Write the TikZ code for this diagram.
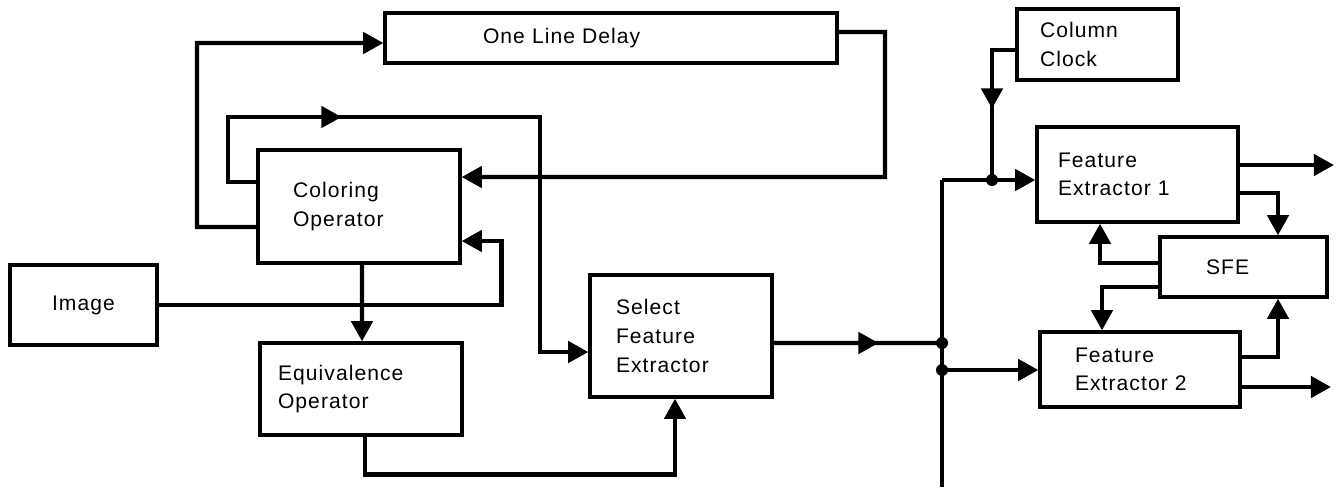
\documentclass[tikz,border=0pt]{standalone}
\usepackage{fontspec}
\setmainfont{Liberation Sans}[LetterSpace=5]
\usetikzlibrary{arrows.meta}
\usetikzlibrary{decorations.markings}

\begin{document}
\begin{tikzpicture}[
        x=0.02cm, y=-0.02cm,
        every node/.style={font=\fontsize{12}{16.3}\selectfont},
        block/.style={rectangle,draw=black,line width=1.9pt,inner ysep=0pt,align=left},
        wire/.style={line width=2.5pt},
        conn/.style={wire,-{Triangle[length=11.5pt,width=12pt]}},
        midarrow/.style={postaction={decorate},
                         decoration={markings,
                           mark=at position #1 with {\arrow{Triangle[length=11.5pt,width=12pt]}}}}
      ]
      \useasboundingbox (0,0) rectangle (1337,491);
      \node (old) [block,minimum height=1cm,inner xsep=1.96cm,text width=5.12cm] at (611,38) {One Line Delay};
      \node (col) [block,minimum height=2.26cm,inner xsep=0.7cm,text width=2.64cm] at (359,206.5) {Coloring\\Operator};
      \node (img) [block,minimum width=2.94cm,minimum height=1.6cm] at (83.5,305) {Image};
      \node (eqv) [block,minimum height=1.84cm,inner xsep=0.36cm,text width=3.32cm] at (361,389) {Equivalence\\Operator};
      \node (sel) [block,minimum height=2.44cm,inner xsep=0.52cm,text width=2.6cm] at (681,336) {Select\\Feature\\Extractor};
      \node (clk) [block,minimum height=1.42cm,inner xsep=0.46cm,text width=2.3cm] at (1097.5,44.5) {Column\\Clock};
      \node (fe1) [block,minimum height=1.9cm,inner xsep=0.42cm,text width=3.18cm] at (1137.5,174.5) {Feature\\Extractor 1};
      \node (sfe) [block,minimum height=1.2cm,inner xsep=0.92cm,text width=1.5cm] at (1243.5,267) {SFE};
      \node (fe2) [block,minimum height=1.5cm,inner xsep=0.7cm,text width=2.6cm] at (1140,369.5) {Feature\\Extractor 2};

      \coordinate (bt) at (942,180);
      \coordinate (bb) at (942,487);
      \coordinate (j1) at (942,343);
      \coordinate (j2) at (942,370);
      \coordinate (jc) at (992,180);
      \coordinate (o1) at (1334,165);
      \coordinate (o2) at (1331,387);

      \draw[conn] ([yshift=-0.41cm]col.west) -| (197,43) -- ([yshift=-0.1cm]old.west);
      \draw[conn,midarrow=4.14cm] ([yshift=0.49cm]col.west) -| (228,117) -- (540,117) |- ([yshift=-0.32cm]sel.west);
      \draw[conn] ([yshift=0.12cm]old.east) -- (885,32) |- ([yshift=0.59cm]col.east);
      \draw[conn] (img.east) -| ([xshift=0.8cm,yshift=-0.69cm]col.east) -- ([yshift=-0.69cm]col.east);
      \draw[conn] ([xshift=0.06cm]col.south) -- ([xshift=0.02cm]eqv.north);
      \draw[conn] ([xshift=0.08cm]eqv.south) -- ++(0,38) -| ([xshift=-0.12cm]sel.south);
      \draw[wire,midarrow=2.1cm] ([yshift=-0.14cm]sel.east) -- (j1);
      \draw[wire] (bt) -- (bb);
      \draw[conn] (bt) -- (bt -| fe1.west);
      \draw[wire,midarrow=1.64cm] ([yshift=-0.11cm]clk.west) -| (jc);
      \draw[conn] (j2) -- (j2 -| fe2.west);
      \draw[conn] (fe1.east |- o1) -- (o1);
      \draw[conn] (fe2.east |- o2) -- (o2);
      \draw[conn] ([yshift=-0.37cm]fe1.east) -| ([xshift=0.69cm]sfe.north);
      \draw[conn] ([yshift=0.08cm]sfe.west) -| ([xshift=-0.75cm]fe1.south);
      \draw[conn] ([yshift=-0.4cm]sfe.west) -| ([xshift=-0.76cm]fe2.north);
      \draw[conn] ([yshift=0.25cm]fe2.east) -| ([xshift=0.69cm]sfe.south);
      \foreach \j in {j1,j2,jc} \fill (\j) circle[radius=0.12cm];

    \end{tikzpicture}
\end{document}
